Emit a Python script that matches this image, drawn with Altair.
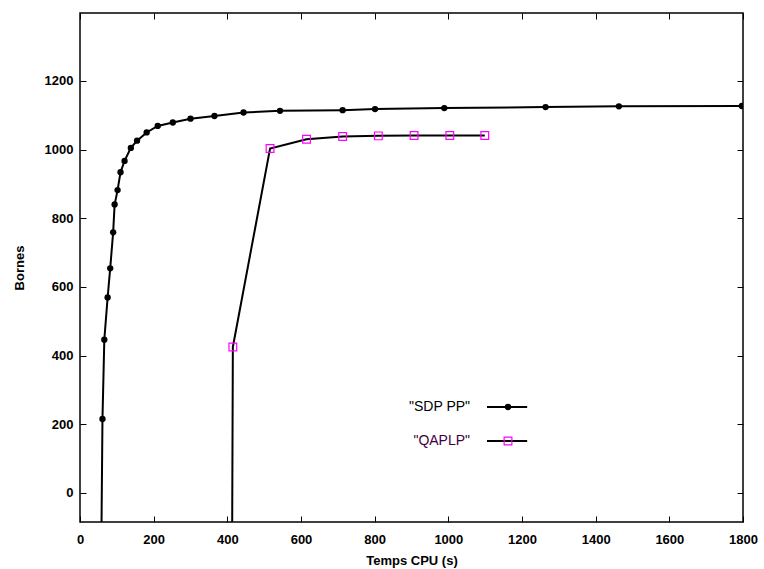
import altair as alt
import pandas as pd

# ---- data ----
sdp_x = [55, 61, 66, 75, 82, 90, 94, 102, 110, 121, 138, 155, 181, 211, 252,
         300, 365, 444, 543, 713, 801, 989, 1264, 1463, 1797]
sdp_y = [-500, 215, 446, 569, 654, 759, 840, 882, 934, 967, 1005, 1026, 1050,
         1069, 1079, 1090, 1098, 1108, 1113, 1115, 1118, 1121, 1124, 1126, 1127]

qaplp_x = [410, 415, 516, 615, 713, 810, 907, 1004, 1099]
qaplp_y = [-1000, 425, 1003, 1030, 1038, 1040, 1041, 1041, 1041]

series_names = ['"SDP PP"', '"QAPLP"']
x_ticks = [0, 200, 400, 600, 800, 1000, 1200, 1400, 1600, 1800]
y_ticks = [0, 200, 400, 600, 800, 1000, 1200]

# legend placement (data coordinates)
legend_y = [250, 151]
legend_text_x = 1059
legend_line_x = [1105, 1214]
legend_mark_x = 1162

rows = []
for i, (a, b) in enumerate(zip(sdp_x, sdp_y)):
    rows.append({"x": a, "y": b, "s": series_names[0], "i": i})
for i, (a, b) in enumerate(zip(qaplp_x, qaplp_y)):
    rows.append({"x": a, "y": b, "s": series_names[1], "i": i})
df = pd.DataFrame(rows)

leg = pd.DataFrame({
    "label": series_names,
    "y": legend_y,
    "tx": [legend_text_x] * 2,
    "x1": [legend_line_x[0]] * 2,
    "x2": [legend_line_x[1]] * 2,
    "mx": [legend_mark_x] * 2,
})

FONT = "Liberation Sans"
xs = alt.Scale(domain=[0, 1800], nice=False, zero=False)
ys = alt.Scale(domain=[-85, 1398], nice=False, zero=False)

common = dict(domain=False, grid=False, tickSize=6, offset=-6, tickColor="black",
              tickWidth=1, labelFont=FONT, labelFontSize=13, labelColor="black",
              labelFontWeight="bold", labelFlush=False, format="d",
              titleFont=FONT, titleFontSize=13, titleColor="black",
              titleFontWeight="bold")

ax_bottom = alt.Axis(orient="bottom", values=x_ticks, title="Temps CPU (s)",
                     labelPadding=11, titlePadding=8, **common)
ax_left = alt.Axis(orient="left", values=y_ticks, title="Bornes",
                   labelPadding=7, titlePadding=18, **common)
ax_top = alt.Axis(orient="top", values=x_ticks, labels=False, title=None, **common)
ax_right = alt.Axis(orient="right", values=y_ticks, labels=False, title=None, **common)

lines = alt.Chart(df).mark_line(color="black", strokeWidth=2, clip=True).encode(
    x=alt.X("x:Q", scale=xs, axis=ax_bottom),
    y=alt.Y("y:Q", scale=ys, axis=ax_left),
    detail="s:N",
    order="i:Q",
)

pts_sdp = alt.Chart(df).transform_filter(
    alt.datum.s == series_names[0]
).mark_point(shape="circle", filled=True, color="black", size=40, opacity=1, clip=True).encode(
    x=alt.X("x:Q", scale=xs, axis=ax_top),
    y=alt.Y("y:Q", scale=ys, axis=ax_right),
)

pts_q = alt.Chart(df).transform_filter(
    alt.datum.s == series_names[1]
).mark_point(shape="square", filled=False, stroke="#ff00ff", strokeWidth=1.2,
             size=60, opacity=1, clip=True).encode(
    x=alt.X("x:Q", scale=xs, axis=None),
    y=alt.Y("y:Q", scale=ys, axis=None),
)

leg_text = alt.Chart(leg).mark_text(align="right", baseline="middle", font=FONT,
                                    fontSize=14).encode(
    x=alt.X("tx:Q", scale=xs, axis=None),
    y=alt.Y("y:Q", scale=ys, axis=None),
    text="label:N",
    color=alt.Color("label:N", scale=alt.Scale(domain=series_names,
                                                range=["black", "#400040"]), legend=None),
)
leg_rule = alt.Chart(leg).mark_rule(color="black", strokeWidth=2).encode(
    x=alt.X("x1:Q", scale=xs, axis=None),
    x2="x2:Q",
    y=alt.Y("y:Q", scale=ys, axis=None),
)
leg_pt1 = alt.Chart(leg).transform_filter(alt.datum.label == series_names[0]).mark_point(
    shape="circle", filled=True, color="black", size=40, opacity=1).encode(
    x=alt.X("mx:Q", scale=xs, axis=None),
    y=alt.Y("y:Q", scale=ys, axis=None),
)
leg_pt2 = alt.Chart(leg).transform_filter(alt.datum.label == series_names[1]).mark_point(
    shape="square", filled=False, stroke="#ff00ff", strokeWidth=1.2, size=60, opacity=1).encode(
    x=alt.X("mx:Q", scale=xs, axis=None),
    y=alt.Y("y:Q", scale=ys, axis=None),
)

chart = alt.layer(lines, pts_sdp, pts_q, leg_rule, leg_pt1, leg_pt2, leg_text).resolve_axis(
    x="independent", y="independent"
).resolve_scale(color="independent").properties(
    width=663, height=509,
    padding={"left": 80, "top": 13, "right": 21, "bottom": 47},
    autosize=alt.AutoSizeParams(type="none"),
    background="white",
).configure_view(stroke="black", strokeWidth=1.5)

chart.save("out.html", embed_options={"renderer": "svg", "actions": False})
